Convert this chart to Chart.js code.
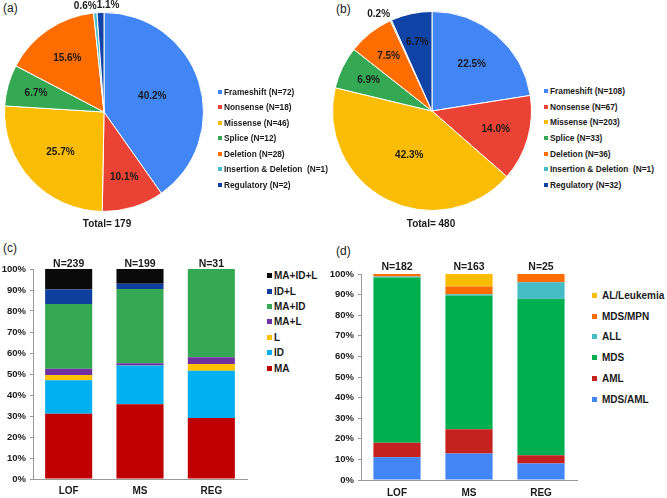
<!DOCTYPE html>
<html>
<head>
<meta charset="utf-8">
<script src="https://cdn.jsdelivr.net/npm/chart.js@4.4.0/dist/chart.umd.min.js"></script>
<style>
  body { margin: 0; background: #fff; font-family: 'Liberation Sans', Arial, sans-serif; color: #1a1a1a; }
  #page { position: relative; width: 667px; height: 498px; overflow: hidden; }
  canvas, .txt, .legend { position: absolute; }
  .tag { font-size: 12px; line-height: 14px; }
  .total { font-weight: bold; font-size: 10px; transform: translate(-50%, -50%); white-space: nowrap; }
  .legend { font-weight: bold; width: max-content; white-space: pre; }
  .legend div { display: flex; align-items: center; white-space: pre; }
  .legend span { display: inline-block; flex: none; }
</style>
</head>
<body>
<div id="page">
  <div class="txt tag" style="left:3px;top:1px">(a)</div>
  <div class="txt tag" style="left:336px;top:2px">(b)</div>
  <div class="txt tag" style="left:3px;top:241px">(c)</div>
  <div class="txt tag" style="left:336px;top:244px">(d)</div>

  <canvas id="pieA" width="214" height="222" style="left:0;top:0"></canvas>
  <canvas id="pieB" width="212" height="222" style="left:326px;top:0"></canvas>
  <div class="txt total" id="totalA" style="left:107px;top:223px"></div>
  <div class="txt total" id="totalB" style="left:431px;top:223px"></div>
  <div class="legend" id="legA" style="left:218px;top:84px"></div>
  <div class="legend" id="legB" style="left:544px;top:83px"></div>

  <canvas id="barC" width="262" height="243" style="left:0;top:255px"></canvas>
  <canvas id="barD" width="262" height="243" style="left:326px;top:255px"></canvas>
  <div class="legend" id="legC" style="left:267px;top:268px"></div>
  <div class="legend" id="legD" style="left:592px;top:285px"></div>
</div>

<script>
// ---- data ----
const pieNames = ['Frameshift', 'Nonsense', 'Missense', 'Splice', 'Deletion', 'Insertion & Deletion ', 'Regulatory'];
const countsA = [72, 18, 46, 12, 28, 1, 2];
const countsB = [108, 67, 203, 33, 36, 1, 32];

const barCats = ['LOF', 'MS', 'REG'];

// (c) percent of each group
const cSeries = ['MA', 'ID', 'L', 'MA+L', 'MA+ID', 'ID+L', 'MA+ID+L'];
const cMA = [31.1, 35.6, 29.0];
const cID = [15.9, 18.5, 22.6];
const cL = [2.5, 0, 3.2];
const cMAL = [3.0, 1.0, 3.2];
const cMAID = [30.8, 35.4, 42.0];
const cIDL = [6.9, 2.5, 0];
const cMAIDL = [9.8, 7.0, 0];
const cN = [239, 199, 31];

// (d) percent of each group
const dSeries = ['MDS/AML', 'AML', 'MDS', 'ALL', 'MDS/MPN', 'AL/Leukemia'];
const dMDSAML = [11.0, 12.9, 8.0];
const dAML = [7.1, 11.7, 4.0];
const dMDS = [80.2, 65.0, 76.0];
const dALL = [0.5, 0.6, 8.0];
const dMPN = [1.2, 3.7, 4.0];
const dAL = [0, 6.1, 0];
const dN = [182, 163, 25];

const yTicks = [0, 10, 20, 30, 40, 50, 60, 70, 80, 90, 100];

// ---- colours ----
const pieColors = ['#4285F4', '#EA4335', '#FBBC04', '#34A853', '#FF6D01', '#46BDC6', '#1043A6'];
const cColors = ['#C00000', '#00B0F0', '#FFC000', '#7030A0', '#35A853', '#0E3F9E', '#0a0a0a'];
const dColors = ['#4285F4', '#C5221F', '#00B050', '#46BDC6', '#FF6D01', '#FBBC04'];

Chart.defaults.font.family = "'Liberation Sans', Arial, sans-serif";
Chart.defaults.color = '#1a1a1a';
Chart.defaults.animation = false;

const FONT = "'Liberation Sans', Arial, sans-serif";

// percentage labels on the pies, small slices go outside
const pctLabels = {
    id: 'pctLabels',
    afterDatasetsDraw(chart) {
        const ctx = chart.ctx;
        const ds = chart.data.datasets[0];
        const total = ds.data.reduce((a, b) => a + b, 0);
        const arcs = chart.getDatasetMeta(0).data;
        ctx.save();
        ctx.font = 'bold 10px ' + FONT;
        ctx.fillStyle = '#1a1a1a';
        ctx.textBaseline = 'middle';
        let prevRight = null;
        arcs.forEach((arc, i) => {
            const frac = ds.data[i] / total;
            const txt = (frac * 100).toFixed(1) + '%';
            const p = arc.getProps(['x', 'y', 'startAngle', 'endAngle', 'outerRadius'], true);
            const mid = (p.startAngle + p.endAngle) / 2;
            if (frac >= 0.03) {
                const k = 0.75 - 0.6 * frac;
                ctx.textAlign = 'center';
                ctx.fillText(txt, p.x + Math.cos(mid) * p.outerRadius * k, p.y + Math.sin(mid) * p.outerRadius * k);
                prevRight = null;
            } else {
                const px = p.x + Math.cos(mid) * (p.outerRadius + 7);
                const py = p.y + Math.sin(mid) * (p.outerRadius + 7);
                if (prevRight === null) {
                    ctx.textAlign = 'right';
                    ctx.fillText(txt, px + 2, py);
                    prevRight = px + 2;
                } else {
                    ctx.textAlign = 'left';
                    ctx.fillText(txt, prevRight, py);
                    prevRight += ctx.measureText(txt).width;
                }
            }
        });
        ctx.restore();
    }
};

// "N=..." above each bar
const nLabels = {
    id: 'nLabels',
    afterDraw(chart, args, opts) {
        const ctx = chart.ctx;
        const xs = chart.scales.x;
        ctx.save();
        ctx.font = 'bold 10.5px ' + FONT;
        ctx.fillStyle = '#1a1a1a';
        ctx.textAlign = 'center';
        ctx.textBaseline = 'middle';
        opts.values.forEach((n, i) => {
            ctx.fillText('N=' + n, xs.getPixelForValue(i), chart.chartArea.top - opts.offset);
        });
        ctx.restore();
    }
};

function htmlLegend(el, items, o) {
    el.style.fontSize = o.font + 'px';
    items.forEach(it => {
        const row = document.createElement('div');
        row.style.height = o.rowH + 'px';
        const sq = document.createElement('span');
        sq.style.width = o.sq + 'px';
        sq.style.height = o.sq + 'px';
        sq.style.marginRight = o.gap + 'px';
        sq.style.background = it.color;
        row.appendChild(sq);
        row.appendChild(document.createTextNode(it.text));
        el.appendChild(row);
    });
}

function makePie(id, counts, padding) {
    const chart = new Chart(document.getElementById(id), {
        type: 'pie',
        data: {
            labels: pieNames.map((n, i) => `${n} (N=${counts[i]})`),
            datasets: [{
                data: counts,
                backgroundColor: pieColors,
                borderColor: '#fff',
                borderWidth: 1
            }]
        },
        options: {
            responsive: false,
            layout: { padding: padding },
            plugins: { legend: { display: false }, tooltip: { enabled: false } }
        },
        plugins: [pctLabels]
    });
    return chart;
}

function makeBar(id, series, values, colors, nVals, o) {
    return new Chart(document.getElementById(id), {
        type: 'bar',
        data: {
            labels: barCats,
            datasets: series.map((name, i) => ({
                label: name,
                data: values[i],
                backgroundColor: colors[i],
                borderWidth: 0,
                categoryPercentage: 1,
                barPercentage: o.barPct
            }))
        },
        options: {
            responsive: false,
            layout: { padding: { top: o.top, right: o.right, left: 0, bottom: 0 } },
            scales: {
                x: {
                    stacked: true,
                    afterFit: s => { s.height = o.xH; },
                    grid: { display: true, drawOnChartArea: false, drawTicks: false },
                    border: { display: true, color: '#9a9a9a', width: 1 },
                    ticks: { font: { size: 10, weight: 'bold' }, padding: o.xPad, color: '#1a1a1a' }
                },
                y: {
                    stacked: true,
                    min: 0,
                    max: 100,
                    afterFit: s => { s.width = o.yW; },
                    afterBuildTicks: s => { s.ticks = yTicks.map(v => ({ value: v })); },
                    grid: { drawOnChartArea: false, drawTicks: true, tickLength: 3, color: '#9a9a9a' },
                    border: { display: true, color: '#9a9a9a', width: 1 },
                    ticks: {
                        font: { size: 9.5, weight: 'bold' },
                        padding: 4,
                        color: '#1a1a1a',
                        callback: v => v + '%'
                    }
                }
            },
            plugins: {
                legend: { display: false },
                tooltip: { enabled: false },
                nLabels: { values: nVals, offset: o.nOff }
            }
        },
        plugins: [nLabels]
    });
}

// ---- pies ----
makePie('pieA', countsA, { left: 4, top: 12, right: 10, bottom: 10 });
makePie('pieB', countsB, { left: 6, top: 11, right: 6, bottom: 11 });

const sum = a => a.reduce((x, y) => x + y, 0);
document.getElementById('totalA').textContent = 'Total= ' + sum(countsA);
document.getElementById('totalB').textContent = 'Total= ' + sum(countsB);

htmlLegend(document.getElementById('legA'),
    pieNames.map((n, i) => ({ text: `${n} (N=${countsA[i]})`, color: pieColors[i] })),
    { font: 8.3, rowH: 15.5, sq: 4, gap: 2 });
htmlLegend(document.getElementById('legB'),
    pieNames.map((n, i) => ({ text: `${n} (N=${countsB[i]})`, color: pieColors[i] })),
    { font: 8.3, rowH: 15.7, sq: 4, gap: 2 });

// ---- stacked bars ----
const cValues = [cMA, cID, cL, cMAL, cMAID, cIDL, cMAIDL];
const dValues = [dMDSAML, dAML, dMDS, dALL, dMPN, dAL];

makeBar('barC', cSeries, cValues, cColors, cN,
    { barPct: 0.66, top: 14, right: 15, xH: 19, yW: 33, xPad: 6, nOff: 5 });
makeBar('barD', dSeries, dValues, dColors, dN,
    { barPct: 0.655, top: 19, right: 11, xH: 18, yW: 35, xPad: 7, nOff: 7 });

htmlLegend(document.getElementById('legC'),
    cSeries.map((n, i) => ({ text: n, color: cColors[i] })).reverse(),
    { font: 10, rowH: 15.4, sq: 5, gap: 2 });
htmlLegend(document.getElementById('legD'),
    dSeries.map((n, i) => ({ text: n, color: dColors[i] })).reverse(),
    { font: 10, rowH: 20.8, sq: 5, gap: 5 });
</script>
</body>
</html>
